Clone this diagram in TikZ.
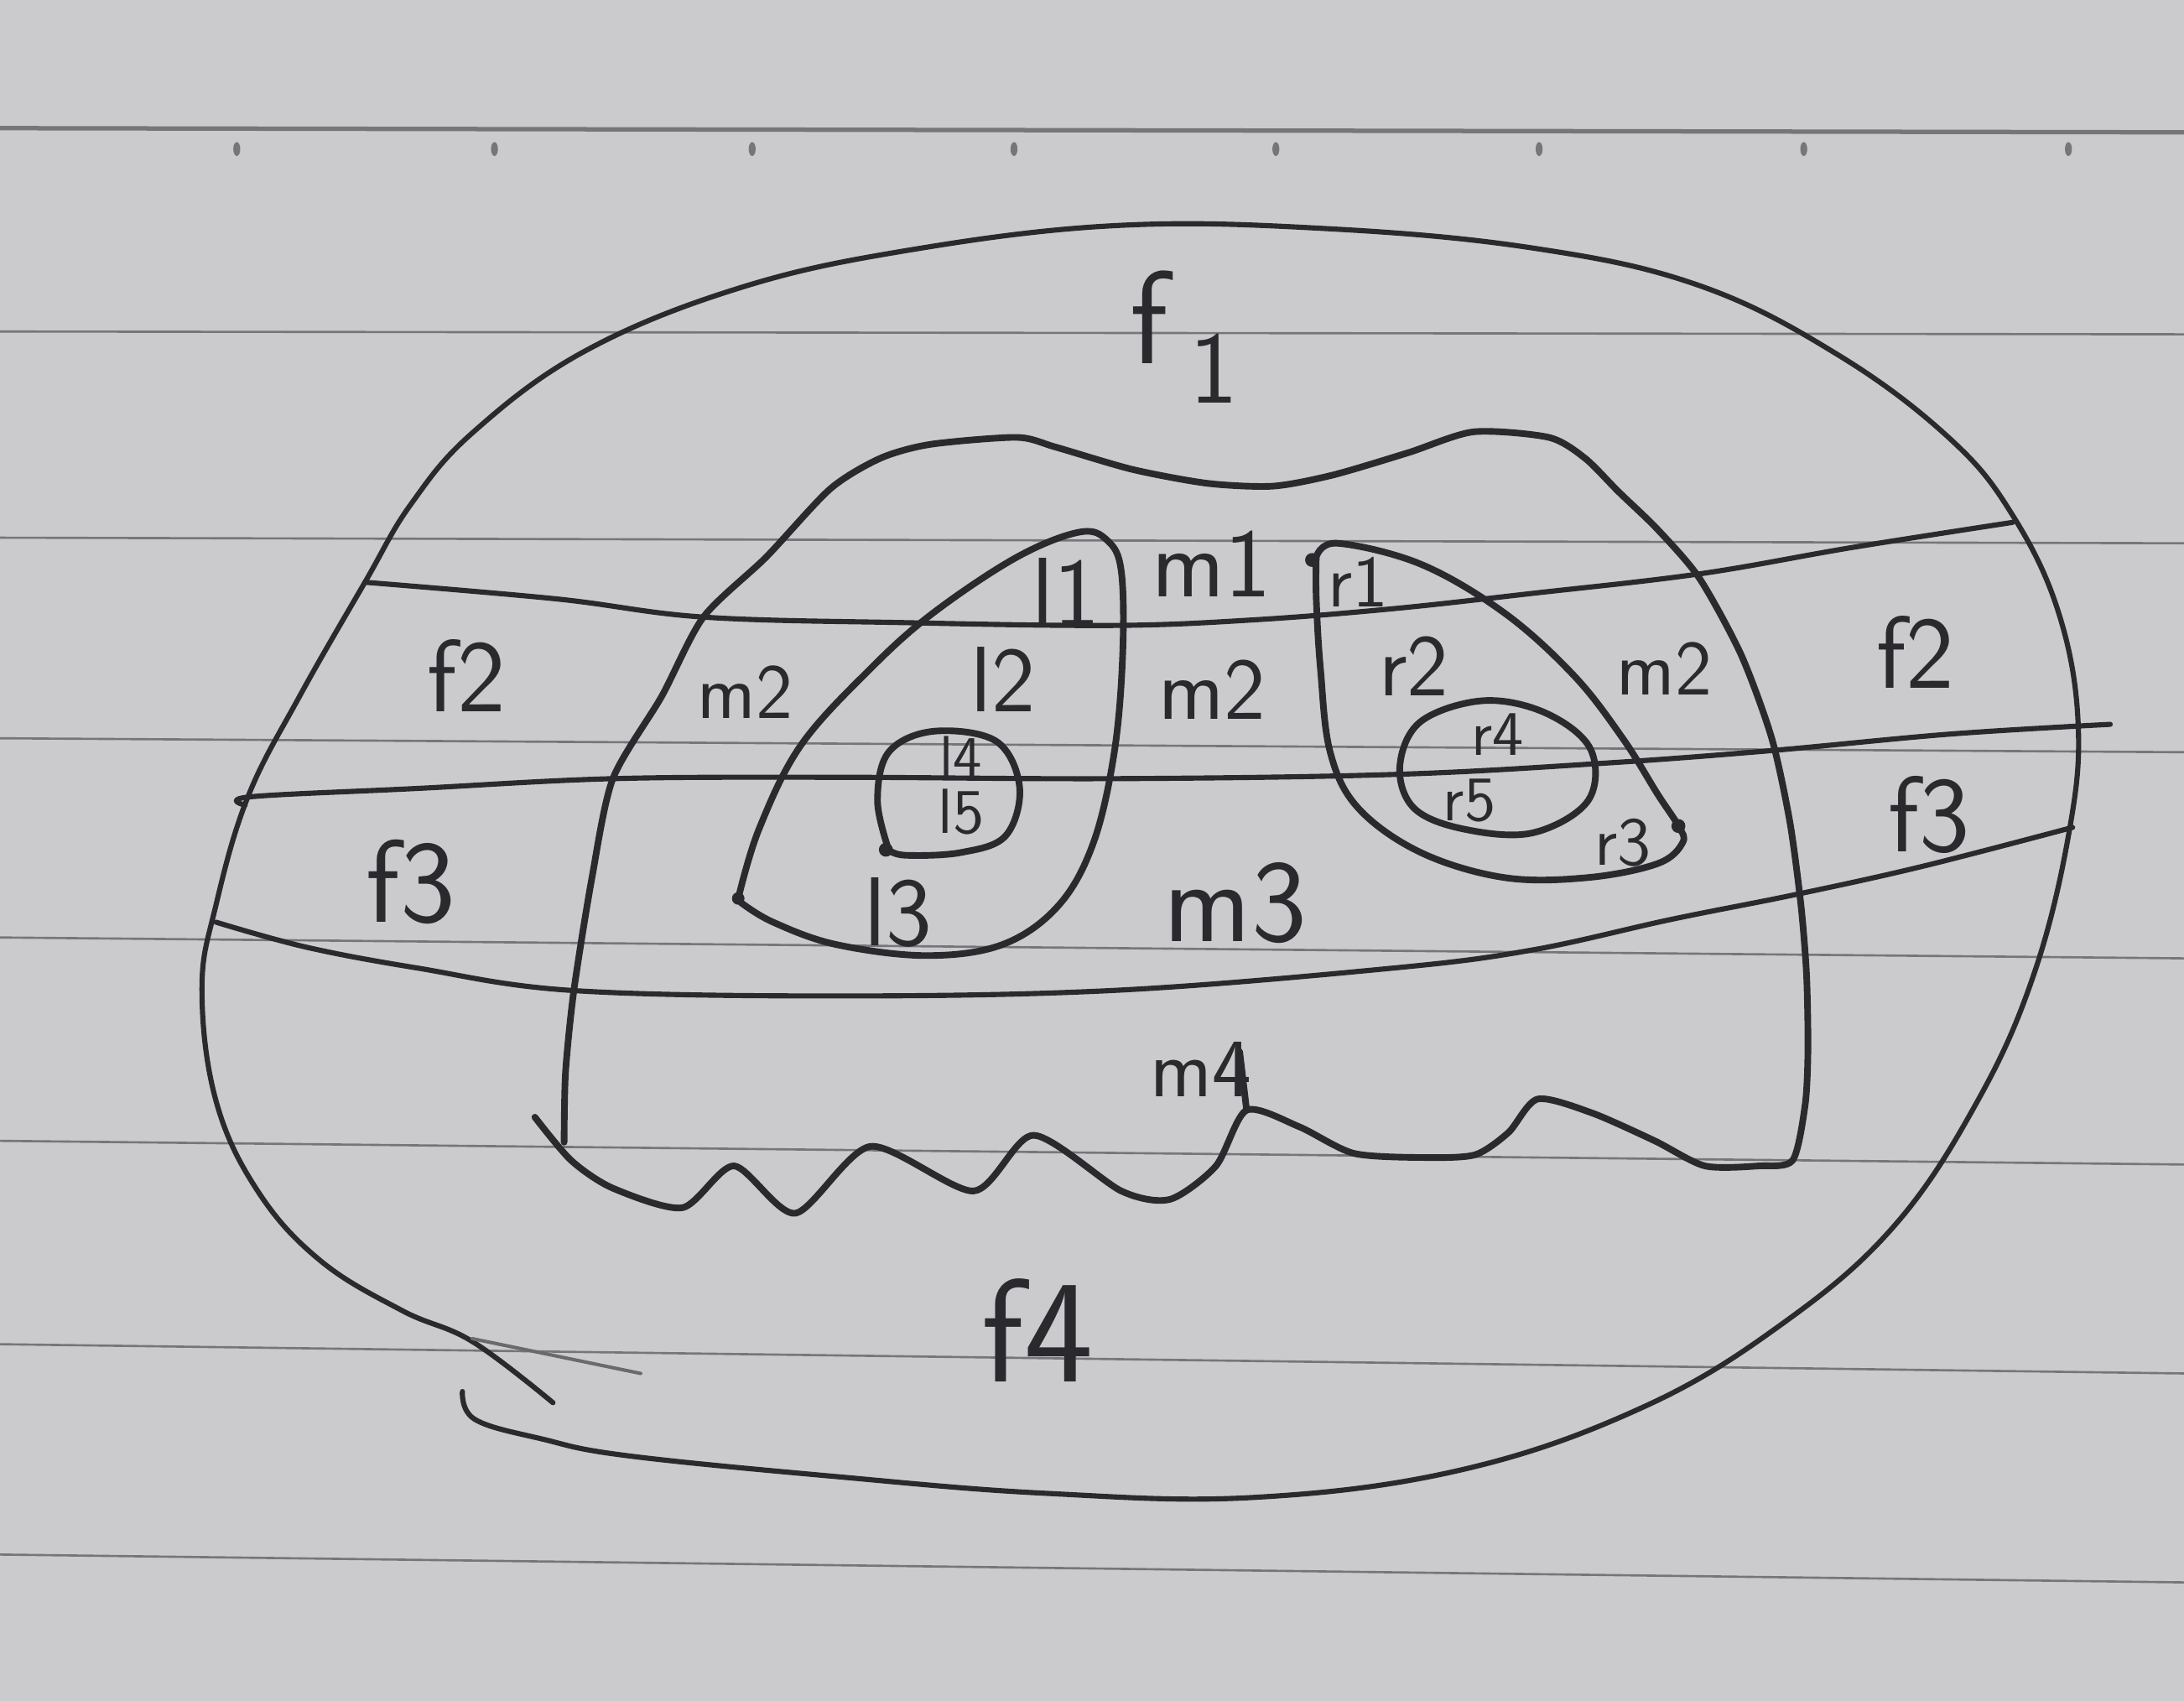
\documentclass[tikz,border=0pt]{standalone}
\definecolor{encre}{RGB}{42,42,46}
\definecolor{papier}{RGB}{203,202,204}
\definecolor{regle}{RGB}{118,118,122}
\def\taille#1{\fontsize{#1}{#1}\selectfont}
\begin{document}
\begin{tikzpicture}[x=1cm,y=-1cm]
\tikzstyle{trait}=[draw=encre,line width=1.35pt,line cap=round,line join=round]
\tikzstyle{fin}=[trait,line width=1.05pt]
\tikzstyle{etiq}=[text=encre,inner sep=0pt]
\tikzstyle{ligne}=[draw=regle,line width=0.45pt]

\def\lx{15.68}
\def\ly{12.21}

% la feuille
\fill[papier] (0,0) rectangle (\lx,\ly);
\useasboundingbox (0,0) rectangle (\lx,\ly);
\draw[regle,line width=0.9pt] (0,0.92) -- (\lx,0.95);
\foreach \a/\b in {2.38/2.40,3.86/3.90,5.30/5.40,6.73/6.88,8.19/8.36,9.65/9.86,11.16/11.36}
  \draw[ligne] (0,\a) -- (\lx,\b);
\foreach \x in {1.70,3.55,5.40,7.28,9.16,11.05,12.95,14.85}
  \fill[regle] (\x,1.07) ellipse (0.025 and 0.05);

% contour exterieur
\draw[fin] plot[smooth,tension=0.65] coordinates {(3.32,9.99) (3.41,10.19) (3.89,10.33) (4.50,10.45) (6.00,10.60) (7.50,10.72) (9.00,10.75) (10.50,10.55) (11.80,10.10) (12.80,9.50) (13.60,8.80) (14.20,7.90) (14.60,7.00) (14.85,6.00) (14.92,5.20) (14.78,4.40) (14.45,3.70) (14.00,3.15) (13.20,2.55) (12.20,2.05) (11.00,1.78) (9.50,1.64) (8.00,1.62) (6.50,1.80) (5.30,2.07) (4.20,2.52) (3.40,3.10) (2.95,3.62) (2.62,4.18) (2.15,5.00) (1.78,5.72) (1.55,6.50) (1.45,7.10) (1.55,7.90) (1.85,8.55) (2.30,9.05) (2.89,9.41) (3.39,9.63) (3.97,10.07)};
\draw[fin,line width=0.7pt,draw=encre!70] (3.39,9.61) -- (4.60,9.86);

% bandes f
\draw[fin] plot[smooth,tension=0.6] coordinates {(2.62,4.18) (4.00,4.30) (5.05,4.43) (6.50,4.47) (8.00,4.49) (9.00,4.45) (10.00,4.37) (11.00,4.26) (12.20,4.12) (13.30,3.93) (14.45,3.75)};
\draw[fin] plot[smooth,tension=0.6] coordinates {(1.76,5.78) (1.80,5.72) (3.00,5.66) (4.40,5.59) (6.00,5.58) (8.00,5.59) (10.00,5.56) (11.50,5.48) (12.70,5.39) (14.00,5.27) (15.15,5.20)};
\draw[fin] plot[smooth,tension=0.6] coordinates {(1.55,6.62) (2.20,6.80) (3.00,6.95) (4.10,7.11) (6.00,7.15) (8.00,7.11) (10.00,6.95) (11.00,6.82) (12.00,6.60) (12.90,6.42) (13.80,6.22) (14.88,5.94)};

% region m
\draw[trait] plot[smooth,tension=0.45] coordinates {(3.84,8.02) (4.10,8.33) (4.40,8.53) (4.90,8.67) (5.27,8.37) (5.71,8.71) (6.25,8.23) (6.99,8.55) (7.42,8.15) (8.05,8.55) (8.40,8.61) (8.73,8.37) (8.95,7.97) (9.33,8.09) (9.72,8.28) (10.23,8.31) (10.59,8.29) (10.83,8.13) (11.04,7.89) (11.43,7.99) (11.88,8.19) (12.24,8.37) (12.63,8.37) (12.87,8.33) (12.96,7.93) (12.98,7.53) (12.97,7.00) (12.93,6.50) (12.85,5.90) (12.72,5.30) (12.50,4.70) (12.20,4.15) (11.90,3.80) (11.62,3.53) (11.38,3.29) (11.12,3.14) (10.58,3.10) (10.11,3.25) (9.57,3.41) (9.14,3.49) (8.67,3.47) (8.13,3.37) (7.58,3.21) (7.30,3.14) (6.68,3.19) (6.32,3.29) (5.96,3.51) (5.50,4.00) (5.05,4.43) (4.75,5.00) (4.40,5.59) (4.25,6.30) (4.12,7.11) (4.06,7.70) (4.05,8.20)};
\draw[trait] (8.95,7.97) -- (8.90,7.55);

% region l
\draw[trait] plot[smooth,tension=0.6] coordinates {(5.30,6.45) (5.45,5.95) (5.75,5.35) (6.25,4.80) (6.70,4.40) (7.30,4.00) (7.75,3.82) (7.95,3.88) (8.05,4.10) (8.06,4.70) (8.00,5.40) (7.85,6.05) (7.60,6.50) (7.20,6.78) (6.65,6.86) (6.00,6.78) (5.55,6.62) (5.32,6.48)};
\fill[encre] (5.30,6.45) circle (0.045);
\draw[trait] plot[smooth,tension=0.6] coordinates {(6.38,6.10) (6.30,5.75) (6.38,5.40) (6.70,5.25) (7.15,5.32) (7.32,5.65) (7.22,6.00) (6.90,6.12) (6.50,6.14) (6.38,6.10)};
\fill[encre] (6.36,6.10) circle (0.05);

% region r
\draw[trait] plot[smooth,tension=0.6] coordinates {(9.45,4.00) (9.60,3.90) (10.20,4.05) (10.80,4.40) (11.30,4.85) (11.65,5.30) (11.90,5.70) (12.05,5.93) (12.08,6.05) (11.90,6.20) (11.40,6.30) (10.80,6.30) (10.20,6.12) (9.75,5.80) (9.55,5.40) (9.48,4.80) (9.45,4.30) (9.45,4.00)};
\fill[encre] (9.42,4.02) circle (0.05);
\fill[encre] (12.05,5.93) circle (0.05);
\draw[trait] plot[smooth cycle,tension=0.6] coordinates {(10.05,5.50) (10.20,5.18) (10.65,5.03) (11.10,5.12) (11.42,5.38) (11.40,5.75) (11.00,5.98) (10.50,5.95) (10.15,5.80)};

% etiquettes
\node[etiq,font=\sffamily\taille{27}] (f1) at (8.50,2.42) {f\,\raisebox{-0.3em}{\taille{21}1}};
\node[etiq,font=\sffamily\taille{21}] (f2g) at (3.35,4.85) {f2};
\node[etiq,font=\sffamily\taille{21}] (f2d) at (13.75,4.68) {f2};
\node[etiq,font=\sffamily\taille{24}] (f3g) at (2.95,6.33) {f3};
\node[etiq,font=\sffamily\taille{22}] (f3d) at (13.85,5.85) {f3};
\node[etiq,font=\sffamily\taille{30}] (f4) at (7.45,9.55) {f4};

\node[etiq,font=\sffamily\taille{20}] (m1) at (8.70,4.05) {m1};
\node[etiq,font=\sffamily\taille{16}] (m2g) at (5.35,4.97) {m2};
\node[etiq,font=\sffamily\taille{18}] (m2c) at (8.70,4.95) {m2};
\node[etiq,font=\sffamily\taille{16}] (m2d) at (11.95,4.80) {m2};
\node[etiq,font=\sffamily\taille{24}] (m3) at (8.87,6.48) {m3};
\node[etiq,font=\sffamily\taille{17}] (m4) at (8.62,7.68) {m4};

\node[etiq,font=\sffamily\taille{20}] (l1) at (7.65,4.25) {l1};
\node[etiq,font=\sffamily\taille{19}] (l2) at (7.20,4.88) {l2};
\node[etiq,font=\sffamily\taille{20}] (l3) at (6.45,6.55) {l3};
\node[etiq,font=\sffamily\taille{12}] (l4) at (6.90,5.43) {l4};
\node[etiq,font=\sffamily\taille{13}] (l5) at (6.90,5.83) {l5};

\node[etiq,font=\sffamily\taille{15}] (r1) at (9.75,4.18) {r1};
\node[etiq,font=\sffamily\taille{18}] (r2) at (10.15,4.78) {r2};
\node[etiq,font=\sffamily\taille{14}] (r3) at (11.65,6.05) {r3};
\node[etiq,font=\sffamily\taille{13}] (r4) at (10.75,5.27) {r4};
\node[etiq,font=\sffamily\taille{13}] (r5) at (10.55,5.75) {r5};

\end{tikzpicture}
\end{document}
